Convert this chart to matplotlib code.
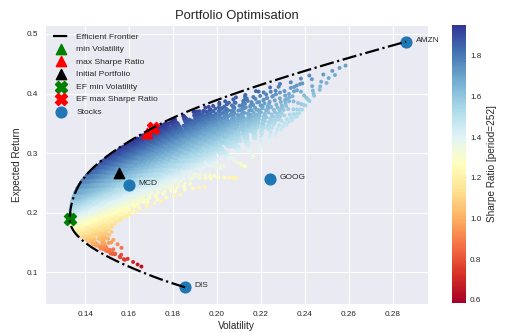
import numpy as np
import matplotlib
matplotlib.use('Agg')
import matplotlib.pyplot as plt
import seaborn as sns
from itertools import combinations, product

# stocks (annualised, period=252)
tickers = ["AMZN", "GOOG", "MCD", "DIS"]
stock_returns = [0.487, 0.257, 0.247, 0.075]
stock_vols = [0.286, 0.224, 0.160, 0.1855]
# pairwise correlations AMZN-GOOG, AMZN-MCD, AMZN-DIS, GOOG-MCD, GOOG-DIS, MCD-DIS
# (fitted so the frontier and the initial portfolio land where the picture has them)
correlations = [0.875, 0.318, -0.024, 0.357, 0.113, 0.357]
risk_free = 0.005
initial_weights = [0.25, 0.25, 0.25, 0.25]
# raw weight levels for the portfolio cloud (normalised to sum 1)
weight_levels = [0.05, 0.15, 0.25, 0.35, 0.45, 0.55, 0.65, 0.75, 0.85, 0.95]
# colour range of the Sharpe ratio bar
sharpe_min, sharpe_max = 0.585, 1.95

mu = np.array(stock_returns)
sd = np.array(stock_vols)
n = len(tickers)
iu = np.triu_indices(n, 1)
R = np.eye(n)
R[iu] = correlations
R[(iu[1], iu[0])] = correlations
cov = R * np.outer(sd, sd)


def portfolio(w):
    w = np.asarray(w, dtype=float)
    w = w / w.sum(axis=-1, keepdims=True)
    ret = w @ mu
    vol = np.sqrt(np.einsum('...i,ij,...j->...', w, cov, w))
    return vol, ret


def frontier_vol(r):
    # long-only minimum variance for each target return (active set by enumeration)
    best = np.full(len(r), np.inf)
    for k in range(2, n + 1):
        for S in combinations(range(n), k):
            S = list(S)
            Si = np.linalg.inv(cov[np.ix_(S, S)])
            m = mu[S]
            o = np.ones(k)
            A, B, C = o @ Si @ o, o @ Si @ m, m @ Si @ m
            D = A * C - B * B
            lam = (C - B * r) / D
            gam = (A * r - B) / D
            W = Si @ (np.outer(o, lam) + np.outer(m, gam))
            var = np.where((W >= -1e-9).all(axis=0), lam + gam * r, np.inf)
            best = np.minimum(best, var)
    return np.sqrt(best)


# portfolio cloud
W = np.array(list(product(weight_levels, repeat=n)))
mc_vol, mc_ret = portfolio(W)
mc_sharpe = (mc_ret - risk_free) / mc_vol
i_min = np.argmin(mc_vol)
i_max = np.argmax(mc_sharpe)
init_vol, init_ret = portfolio(initial_weights)

# efficient frontier
ef_ret = np.linspace(mu.min(), mu.max(), 300)
ef_vol = frontier_vol(ef_ret)
ef_sharpe = (ef_ret - risk_free) / ef_vol
j_min = np.argmin(ef_vol)
j_max = np.argmax(ef_sharpe)

sns.set_style("darkgrid")
plt.rcParams['font.family'] = ['Liberation Sans', 'DejaVu Sans']
plt.rcParams['text.color'] = '#262626'

fig = plt.figure(figsize=(5.12, 3.33), dpi=100)
ax = fig.add_axes([0.088, 0.087, 0.748, 0.838])
cax = fig.add_axes([0.883, 0.09, 0.027, 0.835])

sc = ax.scatter(mc_vol, mc_ret, c=mc_sharpe, cmap="RdYlBu", s=8, linewidths=0,
                vmin=sharpe_min, vmax=sharpe_max)
ax.plot(ef_vol, ef_ret, "k-.", lw=1.6, label="Efficient Frontier")
ax.scatter(mc_vol[i_min], mc_ret[i_min], marker="^", color="g", s=55, label="min Volatility")
ax.scatter(mc_vol[i_max], mc_ret[i_max], marker="^", color="r", s=55, label="max Sharpe Ratio")
ax.scatter(init_vol, init_ret, marker="^", color="k", s=55, label="Initial Portfolio")
ax.scatter(ef_vol[j_min], ef_ret[j_min], marker="X", color="g", s=75, label="EF min Volatility")
ax.scatter(ef_vol[j_max], ef_ret[j_max], marker="X", color="r", s=75, label="EF max Sharpe Ratio")
ax.scatter(stock_vols, stock_returns, marker="o", color="#1f77b4", s=60, label="Stocks")
for t, v, r in zip(tickers, stock_vols, stock_returns):
    ax.annotate(t, (v, r), xytext=(7, 1), textcoords="offset points", va="center",
                fontsize=6, color="#262626")

ax.set_xlim(0.1218, 0.296)
ax.set_ylim(0.047, 0.515)
ax.set_xticks([0.14, 0.16, 0.18, 0.20, 0.22, 0.24, 0.26, 0.28])
ax.set_yticks([0.1, 0.2, 0.3, 0.4, 0.5])
ax.tick_params(labelsize=5.9, pad=1.5)
ax.set_title("Portfolio Optimisation", fontsize=9.4, pad=4)
ax.set_xlabel("Volatility", fontsize=7.2, labelpad=2)
ax.set_ylabel("Expected Return", fontsize=7.2, labelpad=3)
ax.legend(loc="upper left", fontsize=6.1, frameon=False, labelspacing=0.55,
          handletextpad=0.8, borderaxespad=0.5)

cb = fig.colorbar(sc, cax=cax)
cb.outline.set_visible(False)
cb.set_ticks([0.6, 0.8, 1.0, 1.2, 1.4, 1.6, 1.8])
cb.ax.tick_params(labelsize=5.9, length=0, pad=3)
cb.set_label("Sharpe Ratio [period=252]", fontsize=7.2, labelpad=4)

fig.savefig("out.png", dpi=100)
